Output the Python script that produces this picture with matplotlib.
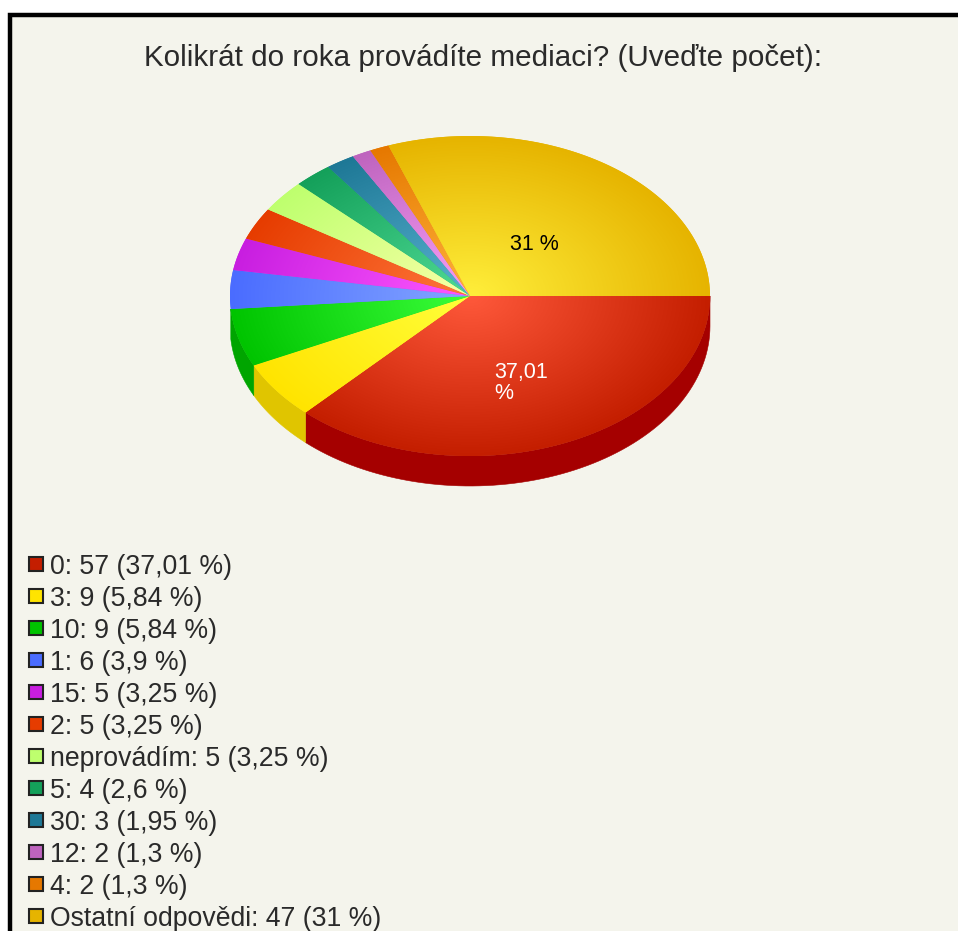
#!/usr/bin/env python3
# -*- coding: utf-8 -*-
import numpy as np
import matplotlib
matplotlib.use('Agg')
import matplotlib.pyplot as plt
from matplotlib.patches import Polygon, Rectangle

plt.rcParams['font.family'] = ['Liberation Sans', 'DejaVu Sans']

TITLE = 'Kolikrát do roka provádíte mediaci? (Uveďte počet):'

# data
NAMES = ['0', '3', '10', '1', '15', '2', 'neprovádím', '5', '30', '12', '4', 'Ostatní odpovědi']
COUNTS = [57, 9, 9, 6, 5, 5, 5, 4, 3, 2, 2, 47]
PERCENTS = ['37,01', '5,84', '5,84', '3,9', '3,25', '3,25', '3,25', '2,6', '1,95', '1,3', '1,3', '31']
COLORS = ['#C41E00', '#FFE400', '#00C400', '#4A6CFF', '#C81EE0', '#E63C00',
          '#BEFF6E', '#14A05A', '#1E7896', '#BE64BE', '#E67800', '#E6B400']

BG = '#F4F4EC'
TEXT = '#2A2A2A'

# pie geometry, in pixels
CX, CY = 470, 296
RX, RY = 240, 160
DEPTH = 30


def rgb(color):
    return np.array(matplotlib.colors.to_rgb(color))


def arc(a0, a1, n=80):
    t = np.radians(np.linspace(a0, a1, n))
    return CX + RX * np.cos(t), CY + RY * np.sin(t)


fig = plt.figure(figsize=(9.58, 9.31), dpi=100, facecolor='white')
ax = fig.add_axes([0, 0, 1, 1])
ax.set_xlim(0, 958)
ax.set_ylim(931, 0)
ax.axis('off')

ax.add_patch(Rectangle((10, 15), 1100, 1100, facecolor=BG, edgecolor='black', linewidth=3.2))

ax.text(483, 58, TITLE, fontsize=21.3, color=TEXT, ha='center', va='center')

# angles run clockwise on screen from 3 o'clock
edges = np.concatenate([[0], np.cumsum(COUNTS)]) / np.sum(COUNTS) * 360

# side wall of the front half; slivers right at the left end do not show
for i, color in enumerate(COLORS):
    a0, a1 = edges[i], min(edges[i + 1], 180)
    if a0 >= 170:
        continue
    x, y = arc(a0, a1)
    pts = np.column_stack([np.r_[x, x[::-1]], np.r_[y, y[::-1] + DEPTH]])
    side = np.clip(rgb(color) - 0.12, 0, 1)
    ax.add_patch(Polygon(pts, closed=True, facecolor=side, edgecolor=side, linewidth=0.4, zorder=2))

# top face, each wedge shaded radially from a lighter centre
gx, gy = np.meshgrid(np.arange(CX - RX, CX + RX + 1, 1.0), np.arange(CY - RY, CY + RY + 1, 1.0))
rad = np.clip(np.hypot((gx - CX) / RX, (gy - CY) / RY), 0, 1)[..., None]
for i, color in enumerate(COLORS):
    base = rgb(color)
    light = np.clip(base + 0.23, 0, 1)
    img = light * (1 - rad) + base * rad
    x, y = arc(edges[i], edges[i + 1])
    pts = np.column_stack([np.r_[CX, x], np.r_[CY, y]])
    wedge = Polygon(pts, closed=True, facecolor=base, edgecolor='none', zorder=3)
    ax.add_patch(wedge)
    im = ax.imshow(img, extent=(CX - RX, CX + RX, CY + RY, CY - RY), zorder=4,
                   interpolation='bilinear', aspect='auto')
    im.set_clip_path(wedge)
ax.set_xlim(0, 958)
ax.set_ylim(931, 0)

# slice labels
ax.text(494, 383, PERCENTS[0] + '\n%', fontsize=15.5, color='white', ha='left', va='center',
        linespacing=1.0, zorder=6)
ax.text(534, 244, PERCENTS[-1] + ' %', fontsize=15.5, color='black', ha='center', va='center', zorder=6)

# legend
for i, (name, n, pct, color) in enumerate(zip(NAMES, COUNTS, PERCENTS, COLORS)):
    y = 564 + i * 32
    ax.add_patch(Rectangle((29, y - 7), 14, 14, facecolor=color, edgecolor='#222222', linewidth=1.5, zorder=5))
    ax.text(50, y + 3.5, f'{name}: {n} ({pct} %)', fontsize=19.2, color=TEXT, ha='left', va='center', zorder=5)

fig.savefig('out.png', dpi=100)
